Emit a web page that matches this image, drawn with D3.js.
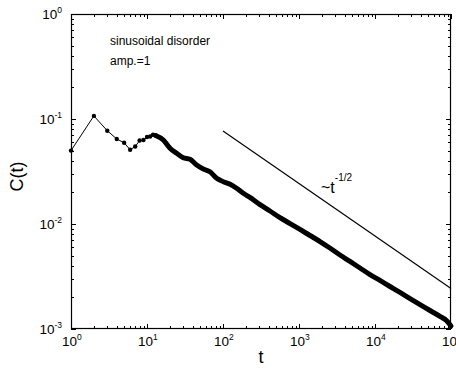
<!DOCTYPE html>
<html>
<head>
<meta charset="utf-8">
<script src="https://cdn.jsdelivr.net/npm/d3@7"></script>
<style>
  body { margin: 0; background: #fff; }
  svg text { font-family: "Liberation Sans", Arial, sans-serif; fill: #000; }
</style>
</head>
<body>
<svg id="chart" width="456" height="369"></svg>
<script>
// early points, drawn with markers
const tEarly = [1, 2, 3, 4, 5, 6, 7, 8, 9, 10, 11, 12, 13];
const cEarly = [0.050, 0.107, 0.0774, 0.0645, 0.0594, 0.0510, 0.0547, 0.0624, 0.0631, 0.0674, 0.0681, 0.0709, 0.0696];

// dense part (thick band of points)
const tLate = [13, 16.4, 20.1, 24.6, 30.0, 36.8, 45.1, 55.1, 67.4, 82.6, 101, 124, 151, 185, 226, 307, 415, 562, 762,
  1031, 1396, 1889, 2431, 3461, 4690, 6350, 8590, 11630, 15740, 21320, 28900, 39100, 52900, 71600, 87700, 100000];
const cLate = [0.0696, 0.0631, 0.0526, 0.0471, 0.0428, 0.0413, 0.0365, 0.0334, 0.0315, 0.0272, 0.0253, 0.0239, 0.0219, 0.0196, 0.0179, 0.0153, 0.0133, 0.0115, 0.0101,
  0.00887, 0.00777, 0.00681, 0.00604, 0.00507, 0.00440, 0.00381, 0.00330, 0.00290, 0.00254, 0.00223, 0.00195, 0.00171, 0.00150, 0.00132, 0.00120, 0.00107];

// guide line ~ t^-1/2
const refT = [100, 100000];
const refC = [0.0769, 0.00243];

const xExp = [0, 1, 2, 3, 4, 5];
const yExp = [0, -1, -2, -3];

const svg = d3.select('#chart');
const L = 71, R = 451, T = 14, B = 329;

const x = d3.scaleLog().domain([1, 1e5]).range([L, R]);
const y = d3.scaleLog().domain([1e-3, 1]).range([B, T]);

const minorX = [];
for (let k = 0; k < 5; k++) for (let m = 2; m <= 9; m++) minorX.push(m * Math.pow(10, k));
const minorY = [];
for (let k = -3; k < 0; k++) for (let m = 2; m <= 9; m++) minorY.push(m * Math.pow(10, k));
const majX = xExp.map(e => Math.pow(10, e));
const majY = yExp.map(e => Math.pow(10, e));

// ticks (inward) on all four sides
function axes(major, minor, axisFn, scale, tr) {
  svg.append('g').attr('transform', tr)
    .call(axisFn(scale).tickValues(major).tickSize(-5).tickFormat(''));
  svg.append('g').attr('transform', tr)
    .call(axisFn(scale).tickValues(minor).tickSize(-3).tickFormat(''));
}
axes(majX, minorX, d3.axisBottom, x, `translate(0,${B})`);
axes(majX, minorX, d3.axisTop, x, `translate(0,${T})`);
axes(majY, minorY, d3.axisLeft, y, `translate(${L},0)`);
axes(majY, minorY, d3.axisRight, y, `translate(${R},0)`);
svg.selectAll('.domain').remove();
svg.selectAll('.tick line').attr('stroke', '#000').attr('shape-rendering', 'crispEdges');

svg.append('rect')
  .attr('x', L + 0.5).attr('y', T + 0.5)
  .attr('width', R - L - 1).attr('height', B - T - 1)
  .attr('fill', 'none').attr('stroke', '#000').attr('stroke-width', 1.2);

// tick labels
const xl = svg.append('g');
xExp.forEach(e => {
  const t = xl.append('text').attr('x', x(Math.pow(10, e)) - 9).attr('y', 346).attr('font-size', 13.5);
  t.append('tspan').text('10');
  t.append('tspan').attr('dy', -6).attr('font-size', 8.5).text(e);
});
yExp.forEach(e => {
  const t = xl.append('text').attr('x', 55).attr('y', y(Math.pow(10, e)) + 5)
    .attr('font-size', 13.5).attr('text-anchor', 'end');
  t.append('tspan').text('10');
  t.append('tspan').attr('dy', -6).attr('font-size', 8.5).text(e === 0 ? '0' : e);
});
// y labels: line up so the exponent ends near the axis
xl.selectAll('text[text-anchor="end"]').each(function () {
  const el = d3.select(this);
  const w = this.getComputedTextLength();
  el.attr('text-anchor', 'start').attr('x', 57 - w + 5);
});

// axis titles
svg.append('text').attr('x', (L + R) / 2).attr('y', 363).attr('text-anchor', 'middle')
  .attr('font-size', 18).text('t');
svg.append('text').attr('transform', `translate(23,${(T + B) / 2 + 5}) rotate(-90)`)
  .attr('text-anchor', 'middle').attr('font-size', 18).text('C(t)');

// annotations
svg.append('text').attr('x', 110).attr('y', 45).attr('font-size', 12).text('sinusoidal disorder');
svg.append('text').attr('x', 110).attr('y', 65).attr('font-size', 12).text('amp.=1');
const lab = svg.append('text').attr('x', 321).attr('y', 193).attr('font-size', 16);
lab.append('tspan').text('~t');
lab.append('tspan').attr('dy', -12).attr('font-size', 10).text('-1/2');

// data
const line = d3.line().x(d => x(d[0])).y(d => y(d[1]));
const early = tEarly.map((t, i) => [t, cEarly[i]]);
const late = tLate.map((t, i) => [t, cLate[i]]);

svg.append('path').attr('d', line(refT.map((t, i) => [t, refC[i]])))
  .attr('fill', 'none').attr('stroke', '#000').attr('stroke-width', 1.2);

svg.append('path').attr('d', line(early)).attr('fill', 'none').attr('stroke', '#000').attr('stroke-width', 1);
svg.selectAll('circle.pt').data(early).enter().append('circle').attr('class', 'pt')
  .attr('cx', d => x(d[0])).attr('cy', d => y(d[1])).attr('r', 2.2).attr('fill', '#000');

svg.append('path').attr('d', d3.line().curve(d3.curveMonotoneX).x(d => x(d[0])).y(d => y(d[1]))(late))
  .attr('fill', 'none').attr('stroke', '#000').attr('stroke-width', 5)
  .attr('stroke-linecap', 'round').attr('stroke-linejoin', 'round');
</script>
</body>
</html>
